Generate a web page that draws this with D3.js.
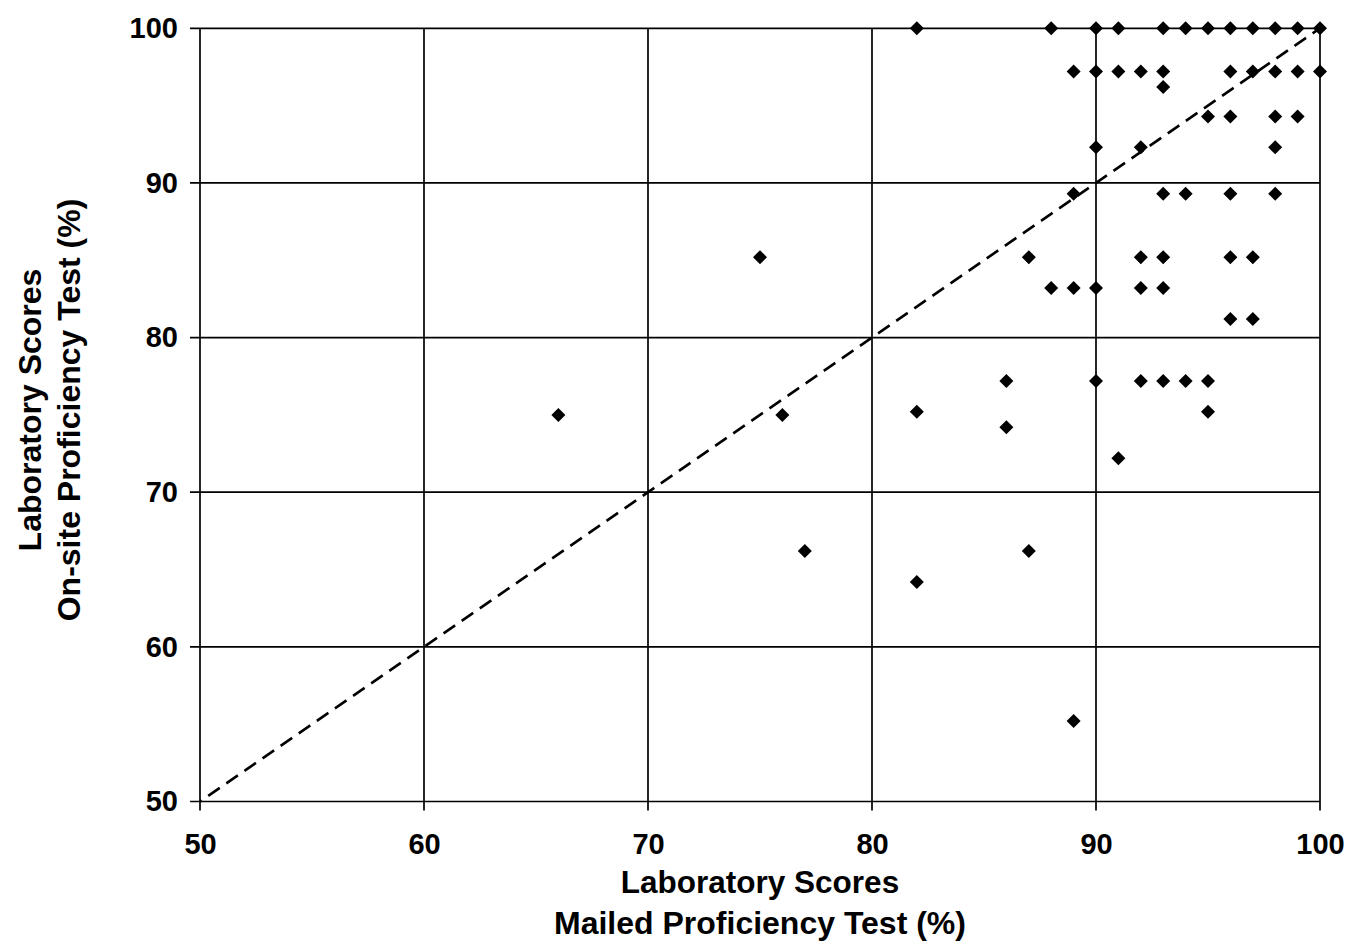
<!DOCTYPE html>
<html>
<head>
<meta charset="utf-8">
<script src="https://cdn.jsdelivr.net/npm/d3@7"></script>
<style>
  html, body { margin: 0; padding: 0; background: #fff; }
  svg { display: block; }
  text { font-family: "Liberation Sans", Arial, sans-serif; font-weight: bold; fill: #000; }
</style>
</head>
<body>
<svg id="chart" width="1356" height="949"></svg>
<script>
// ---- data ----
const mailedScores = [
  82, 88, 90, 91, 93, 94, 95, 96, 97, 98, 99, 100,
  89, 90, 91, 92, 93, 96, 97, 98, 99, 100,
  93,
  95, 96, 98, 99,
  90, 92, 98,
  89, 93, 94, 96, 98,
  75, 87, 92, 93, 96, 97,
  88, 89, 90, 92, 93,
  96, 97,
  86, 90, 92, 93, 94, 95,
  82, 95,
  66, 76,
  86,
  91,
  77, 87,
  82,
  89
];
const onsiteScores = [
  100, 100, 100, 100, 100, 100, 100, 100, 100, 100, 100, 100,
  97.2, 97.2, 97.2, 97.2, 97.2, 97.2, 97.2, 97.2, 97.2, 97.2,
  96.2,
  94.3, 94.3, 94.3, 94.3,
  92.3, 92.3, 92.3,
  89.3, 89.3, 89.3, 89.3, 89.3,
  85.2, 85.2, 85.2, 85.2, 85.2, 85.2,
  83.2, 83.2, 83.2, 83.2, 83.2,
  81.2, 81.2,
  77.2, 77.2, 77.2, 77.2, 77.2, 77.2,
  75.2, 75.2,
  75, 75,
  74.2,
  72.2,
  66.2, 66.2,
  64.2,
  55.2
];
const xTicks = [50, 60, 70, 80, 90, 100];
const yTicks = [50, 60, 70, 80, 90, 100];
const referenceLine = [50, 100]; // y = x
const xTitle = ["Laboratory Scores", "Mailed Proficiency Test (%)"];
const yTitle = ["Laboratory Scores", "On-site Proficiency Test (%)"];

// ---- layout ----
const svg = d3.select("#chart");
const pLeft = 200, pRight = 1320, pTop = 28.3, pBottom = 801.5;
const x = d3.scaleLinear().domain([50, 100]).range([pLeft, pRight]);
const y = d3.scaleLinear().domain([50, 100]).range([pBottom, pTop]);

// grid
const grid = svg.append("g");
grid.selectAll("line.h").data(yTicks).join("line")
  .attr("x1", pLeft - 10).attr("x2", pRight)
  .attr("y1", d => y(d)).attr("y2", d => y(d))
  .attr("stroke", "#000").attr("stroke-width", 1.7);
grid.selectAll("line.v").data(xTicks).join("line")
  .attr("x1", d => x(d)).attr("x2", d => x(d))
  .attr("y1", pTop).attr("y2", pBottom + 9)
  .attr("stroke", "#000").attr("stroke-width", 1.7);

// axes labels via d3 axes (lines hidden)
const xAxis = svg.append("g").attr("transform", `translate(0,${pBottom})`)
  .call(d3.axisBottom(x).tickValues(xTicks).tickSize(0).tickPadding(32));
xAxis.select(".domain").remove();
xAxis.attr("font-family", null).attr("font-size", null);
xAxis.selectAll("text").style("font-size", "29px");

const yAxis = svg.append("g").attr("transform", `translate(${pLeft},0)`)
  .call(d3.axisLeft(y).tickValues(yTicks).tickSize(0).tickPadding(22));
yAxis.select(".domain").remove();
yAxis.attr("font-family", null).attr("font-size", null);
yAxis.selectAll("text").style("font-size", "29px");

// reference dashed line
svg.append("line")
  .attr("x1", x(referenceLine[0])).attr("y1", y(referenceLine[0]))
  .attr("x2", x(referenceLine[1])).attr("y2", y(referenceLine[1]))
  .attr("stroke", "#000").attr("stroke-width", 2.6)
  .attr("stroke-dasharray", "14,8").attr("stroke-dashoffset", -10);

// points
const pts = mailedScores.map((m, i) => ({ m, o: onsiteScores[i] }));
svg.append("g").selectAll("path").data(pts).join("path")
  .attr("d", "M0,-7L7,0L0,7L-7,0Z")
  .attr("transform", d => `translate(${x(d.m)},${y(d.o)})`)
  .attr("fill", "#000");

// titles
const cx = 760;
svg.append("text").attr("x", cx).attr("y", 893).attr("text-anchor", "middle")
  .style("font-size", "31.5px").text(xTitle[0]);
svg.append("text").attr("x", cx).attr("y", 934).attr("text-anchor", "middle")
  .style("font-size", "32px").text(xTitle[1]);

const cy = 410;
svg.append("text").attr("transform", `translate(41,${cy}) rotate(-90)`).attr("text-anchor", "middle")
  .style("font-size", "32px").text(yTitle[0]);
svg.append("text").attr("transform", `translate(80,${cy}) rotate(-90)`).attr("text-anchor", "middle")
  .style("font-size", "32px").text(yTitle[1]);
</script>
</body>
</html>
